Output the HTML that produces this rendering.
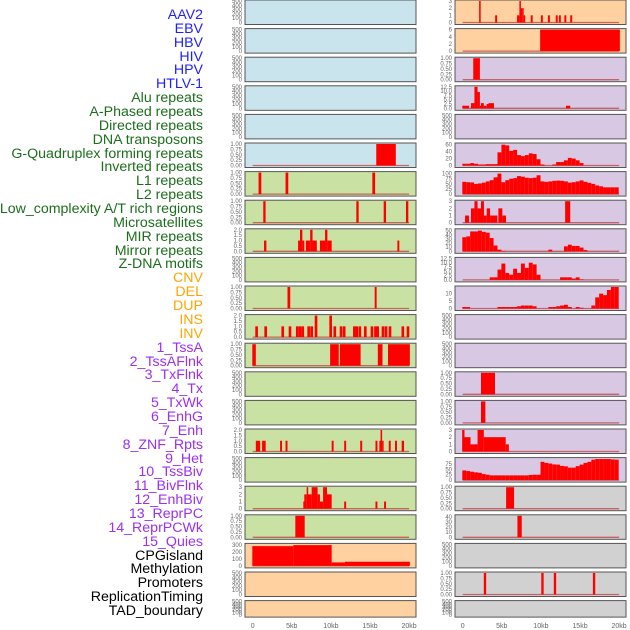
<!DOCTYPE html>
<html><head><meta charset="utf-8">
<style>
html,body{margin:0;padding:0;background:#fff;}
#wrap{position:relative;width:630px;height:630px;overflow:hidden;font-family:"Liberation Sans",sans-serif;}
.lab{position:absolute;right:427px;font-size:14.2px;line-height:16px;white-space:nowrap;}
svg{position:absolute;left:0;top:0;}
</style></head>
<body>
<div id="wrap">
<svg id="svg" width="630" height="630"></svg>
</div>
<script>
const labelTexts=["AAV2","EBV","HBV","HIV","HPV","HTLV-1","Alu repeats","A-Phased repeats","Directed repeats","DNA transposons","G-Quadruplex forming repeats","Inverted repeats","L1 repeats","L2 repeats","Low_complexity A/T rich regions","Microsatellites","MIR repeats","Mirror repeats","Z-DNA motifs","CNV","DEL","DUP","INS","INV","1_TssA","2_TssAFlnk","3_TxFlnk","4_Tx","5_TxWk","6_EnhG","7_Enh","8_ZNF_Rpts","9_Het","10_TssBiv","11_BivFlnk","12_EnhBiv","13_ReprPC","14_ReprPCWk","15_Quies","CPGisland","Methylation","Promoters","ReplicationTiming","TAD_boundary"];
const labelGroups=["b","b","b","b","b","b","g","g","g","g","g","g","g","g","g","g","g","g","g","o","o","o","o","o","p","p","p","p","p","p","p","p","p","p","p","p","p","p","p","k","k","k","k","k"];
const xTickKb=[0,5,10,15,20];
const xTickLabels=["0","5kb","10kb","15kb","20kb"];

const histStart=-0.05, histStep=0.5;
const g4Vals=[5,5,7,5,3,3,4,4,4,38,60,58,42,45,30,27,30,35,33,18,3,0,0,3,10,10,15,22,20,15,7,0,0,0,0,0,0,0,0,0];
const l1Vals=[60,58,57,50,52,56,62,68,82,100,58,68,75,78,88,85,80,78,80,92,62,60,62,65,66,65,62,56,58,62,67,60,55,50,42,38,33,33,33,33];
const mirVals=[34,36,48,48,50,47,45,32,14,4,1,0,0,0,0,0,0,0,0,0,0,0,4,0,0,0,12,16,13,13,9,3,0,0,0,0,0,0,0,0];
const zdnaVals=[0,0,0,0,0,0,0,1.5,1.5,6,9.5,4,3,6.5,4,9.5,7,10,9,3,0,0,0,0,0,1.5,1.5,1.5,0.8,1.5,0.3,0,0,0,0,0,0,0,0,0];
const delVals=[1,1,0,0,0,0,0,0,0,1,1,1,1,1,1.5,2,2,2,1.5,0,0,0,1,1,1.5,2,2.5,1,0,1,0.5,0,0,2,7.5,10,9,12.5,14.5,14.5];
const tssBivVals=[45,42,39,36,34,28,25,22,22,22,22,22,22,22,22,22,22,24,25,25,85,80,77,73,72,66,64,58,58,65,72,80,85,95,98,98,98,98,96,95];
const micro2Pos=[0.5,1.66,3.84,4.77,5.7,6.05,6.4,7.16,7.54,8.1,9.97,10.5,11.3,11.7,13.0,13.3,13.7,14.4,15.25,15.7,15.98,16.66,17.05,17.56,19.2,19.86];
const micro2Val=[1,1,1,1,1,1,1,1,1,2,2,1,1,1,1,1,1,1,1,1,1,1,1,1,1,1];

const T500=[0,100,200,300,400,500], T1=[0,0.25,0.5,0.75,1], T2=[0,0.5,1,1.5,2], T3=[0,1,2,3];
const E=(bg)=>({bg,ymax:500,ticks:T500,dec:0});
const leftPanels=[
E('blue'),E('blue'),E('blue'),E('blue'),E('blue'),
{bg:'blue',ymax:1,ticks:T1,dec:2,segs:[[15.8,18.3,1]]},
{bg:'green',ymax:1,ticks:T1,dec:2,segs:[[0.75,1.1,1],[4.2,4.55,1],[15.3,15.65,1]]},
{bg:'green',ymax:1,ticks:T1,dec:2,segs:[[1.35,1.65,1],[13.25,13.55,1],[16.75,17.05,1],[19.6,19.9,1]]},
{bg:'green',ymax:2,ticks:T2,dec:1,segs:[[1.45,1.75,1],[5.8,6.05,1],[6.05,6.35,2],[6.35,6.6,1],[6.8,7.35,1],[7.35,7.65,2],[7.65,8.2,1],[8.6,9.25,1],[9.25,9.55,2],[9.55,10.1,1],[18.5,18.75,1]]},
E('green'),
{bg:'green',ymax:1,ticks:T1,dec:2,segs:[[4.45,4.8,1],[15.6,15.85,1]]},
{bg:'green',ymax:2,ticks:T2,dec:1,spikePos:micro2Pos,spikeVal:micro2Val},
{bg:'green',ymax:1,ticks:T1,dec:2,segs:[[-0.05,0.4,1],[9.9,11.0,1],[11.15,13.8,1],[16.0,16.6,1],[17.3,20.1,1]]},
E('green'),E('green'),
{bg:'green',ymax:2,ticks:T2,dec:1,segs:[[0.4,0.95,1],[1.2,1.66,1],[3.5,3.75,1],[4.2,4.45,1],[10.1,10.35,1],[11.7,11.95,1],[13.75,14.0,1],[15.7,15.95,1],[16.2,16.35,1],[16.35,16.55,2],[16.55,16.7,1],[17.4,17.65,1],[18.2,18.45,1],[19.05,19.35,1]]},
E('green'),
{bg:'green',ymax:3,ticks:T3,dec:0,segs:[[6.47,6.6,1],[6.6,6.9,2],[6.9,7.05,3],[7.05,7.54,2],[7.54,8.3,3],[8.3,8.6,2],[8.6,9.0,1],[9.0,9.5,3],[9.5,10.1,2],[11.7,11.95,1],[15.7,15.95,1],[16.8,17.05,1]]},
{bg:'green',ymax:1,ticks:T1,dec:2,segs:[[5.45,6.65,1]]},
{bg:'orange',ymax:310,ticks:[0,100,200,300],dec:0,segs:[[-0.05,5.2,285],[5.2,10.1,300],[10.1,11.8,50],[11.8,20.1,60]]},
E('orange'),E('orange')
];
const rightPanels=[
{bg:'orange',ymax:3,ticks:T3,dec:0,segs:[[2.1,2.3,3],[4.15,4.4,1],[6.95,7.25,1],[7.25,7.4,3],[7.4,7.6,2],[7.6,7.8,2],[7.8,7.95,1],[8.7,8.95,1],[10.0,10.25,1],[10.9,11.15,1],[11.9,12.15,1],[12.3,12.55,1],[13.0,13.25,1],[13.75,14.0,1]]},
{bg:'orange',ymax:6,ticks:[0,2,4,6],dec:0,segs:[[9.9,20.1,6]]},
{bg:'purple',ymax:1,ticks:T1,dec:2,segs:[[1.35,2.2,1]]},
{bg:'purple',ymax:12.5,ticks:[0,2.5,5,7.5,10,12.5],dec:1,segs:[[-0.05,0.8,1.5],[1.06,1.5,3],[1.5,1.9,12.5],[1.9,2.2,9.5],[2.2,2.34,1.5],[2.34,2.7,3],[2.7,3.07,1.5],[3.07,3.3,2.5],[3.3,4.0,3],[13.2,13.75,1.5]]},
E('purple'),
{bg:'purple',ymax:62,ticks:[0,20,40,60],dec:0,hist:g4Vals},
{bg:'purple',ymax:105,ticks:[0,25,50,75,100],dec:0,hist:l1Vals},
{bg:'purple',ymax:3,ticks:T3,dec:0,segs:[[0.3,0.8,1],[1.06,1.5,2],[1.5,1.9,3],[1.9,2.34,2],[2.34,2.72,3],[2.72,3.07,1],[3.07,3.5,2],[3.5,4.43,1],[4.56,5.07,2],[5.07,5.54,1],[13.1,13.75,3]]},
{bg:'purple',ymax:52,ticks:[0,10,20,30,40,50],dec:0,hist:mirVals},
{bg:'purple',ymax:12.5,ticks:[0,2.5,5,7.5,10,12.5],dec:1,hist:zdnaVals},
{bg:'purple',ymax:14.5,ticks:[0,5,10],dec:0,hist:delVals},
E('purple'),E('purple'),
{bg:'purple',ymax:1,ticks:T1,dec:2,segs:[[2.34,4.13,1]]},
{bg:'purple',ymax:1,ticks:T1,dec:2,segs:[[2.34,2.9,1]]},
{bg:'purple',ymax:3,ticks:T3,dec:0,segs:[[-0.07,0.23,3],[0.23,1.0,2],[1.0,1.9,1],[1.9,2.7,3],[2.7,5.5,2],[5.5,5.9,1]]},
{bg:'purple',ymax:100,ticks:[0,25,50,75],dec:0,hist:tssBivVals},
{bg:'grey',ymax:1,ticks:T1,dec:2,segs:[[5.55,6.57,1]]},
{bg:'grey',ymax:42,ticks:[0,10,20,30,40],dec:0,segs:[[7.0,7.55,42]]},
E('grey'),
{bg:'grey',ymax:1,ticks:T1,dec:2,segs:[[2.7,3.0,1],[10.05,10.35,1],[11.65,11.95,1],[16.65,16.95,1]]},
E('grey')
];

const BG={blue:'#c9e4ec',green:'#c9e1a2',orange:'#ffd1a1',purple:'#d8c8e3',grey:'#d1d1d1'};
const LC={b:'#1f1fff',g:'#1c6e1c',o:'#ffa500',p:'#9b30f0',k:'#000'};
const NS='http://www.w3.org/2000/svg';
const svg=document.getElementById('svg');
function mk(tag,attrs,parent){const e=document.createElementNS(NS,tag);for(const k in attrs)e.setAttribute(k,attrs[k]);(parent||svg).appendChild(e);return e;}

const wrap=document.getElementById('wrap');
labelTexts.forEach((t,i)=>{
  const d=document.createElement('div');
  d.className='lab';
  d.textContent=t;
  d.style.top=(7+i*13.86)+'px';
  d.style.color=LC[labelGroups[i]];
  
  
  wrap.appendChild(d);
});

const PITCH=28.6, PW=171, KBPX=7.82;
function drawColumn(panels,px,x0,colName){
  const xs=kb=>x0+kb*KBPX;
  panels.forEach((p,i)=>{
    const top=i*PITCH;
    const H=(i===panels.length-1)?16.5:24.5;
    const g=mk('g',{});
    
    
    const r=mk('rect',{x:px,y:top,width:PW,height:H,fill:BG[p.bg],stroke:'#555','stroke-width':1},g);
    
    
    const base=top+H-2, ytop=top+1;
    const ys=v=>base-(v/p.ymax)*(base-ytop);
    p.ticks.forEach(t=>{
      const tx=mk('text',{x:px-3,y:ys(t)+2,'font-size':6,fill:'#666','text-anchor':'end'},g);
      tx.textContent=t.toFixed(p.dec);
      
      
    });
    let segs=[];
    if(p.segs)segs=p.segs.slice();
    if(p.spikePos)p.spikePos.forEach((q,j)=>segs.push([q-0.17,q+0.17,p.spikeVal[j]]));
    if(p.hist)p.hist.forEach((v,j)=>{if(v>0)segs.push([histStart+j*histStep,histStart+(j+1)*histStep,v]);});
    const hasData=p.segs||p.spikePos||p.hist;
    if(hasData){
      const bl=mk('line',{x1:xs(0),x2:xs(20),y1:base,y2:base,stroke:'#c04848','stroke-width':1.3,'stroke-opacity':0.8},g);
      
      
    }
    segs.forEach(s=>{
      const b=mk('rect',{x:xs(s[0]),y:ys(s[2]),width:Math.max(1.5,xs(s[1])-xs(s[0])),height:base-ys(s[2]),fill:'#ff0000'},g);
      
      
    });
  });
  xTickKb.forEach((k,j)=>{
    const t=mk('text',{x:xs(k),y:628,'font-size':7,fill:'#666','text-anchor':'middle'});
    t.textContent=xTickLabels[j];
    
    
  });
}
drawColumn(leftPanels,245,252.7,'left');
drawColumn(rightPanels,455,462.7,'right');
</script>
</body></html>
